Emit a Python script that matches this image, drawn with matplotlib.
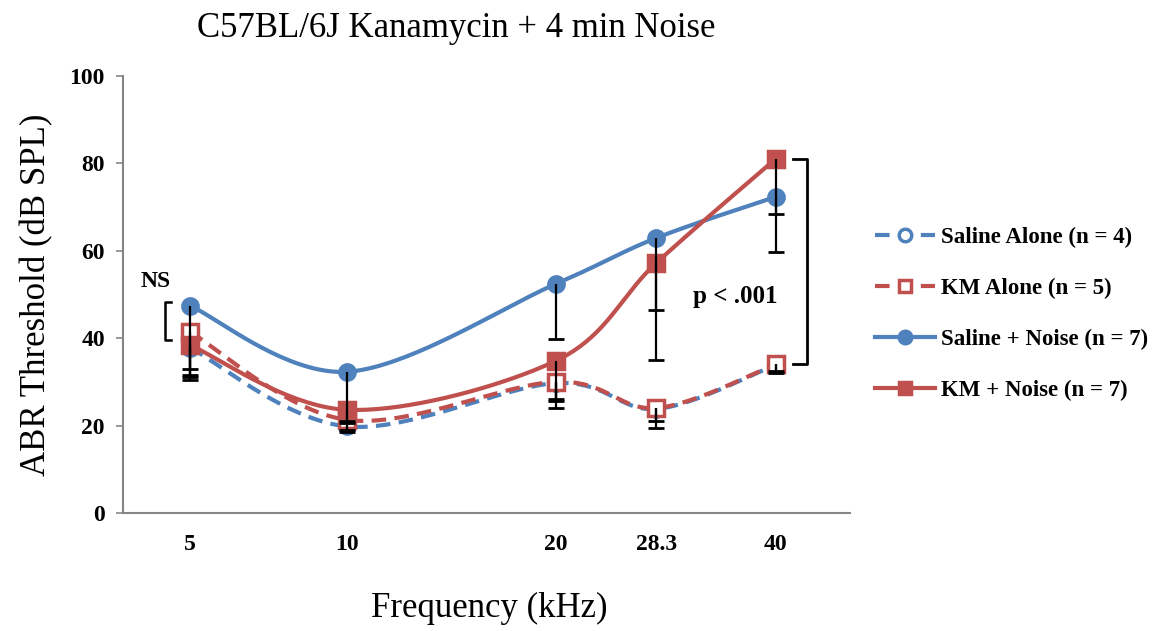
import numpy as np
import matplotlib
matplotlib.use("Agg")
import matplotlib.pyplot as plt
from matplotlib.lines import Line2D

# frequencies (kHz) and their spacing on the original axis
freq_labels = ["5", "10", "20", "28.3", "40"]
freq_pos = [0.0, 1.0, 2.33, 2.97, 3.73]

saline_alone = [37.8, 19.8, 29.7, 23.8, 33.9]
km_alone = [41.4, 21.3, 30.0, 24.0, 34.0]
saline_noise = [47.4, 32.3, 52.4, 62.9, 72.3]
km_noise = [38.4, 23.6, 34.8, 57.2, 81.0]

# lower error bars (only the lower half is shown)
saline_alone_err = [6.8, 1.3, 5.7, 4.3, 1.9]
km_alone_err = [8.4, 2.3, 4.0, 3.0, 1.5]
saline_noise_err = [16.9, 11.3, 12.6, 16.4, 12.6]
km_noise_err = [6.9, 3.1, 9.3, 22.2, 12.6]

BLUE = "#4F81BD"
RED = "#C0504D"
SERIF = "Liberation Serif"


def smooth(ax, x, y, n=40):
    # Excel style smoothed line, computed in screen space
    pts = ax.transData.transform(np.column_stack([x, y]))
    P = np.vstack([pts[0], pts, pts[-1]])
    t = np.linspace(0, 1, n)[:, None]
    out = []
    for i in range(1, len(P) - 2):
        p0, p1, p2, p3 = P[i - 1], P[i], P[i + 1], P[i + 2]
        c1 = p1 + (p2 - p0) / 6
        c2 = p2 - (p3 - p1) / 6
        seg = ((1 - t) ** 3 * p1 + 3 * (1 - t) ** 2 * t * c1
               + 3 * (1 - t) * t ** 2 * c2 + t ** 3 * p2)
        out.append(seg)
    out = ax.transData.inverted().transform(np.vstack(out))
    return out[:, 0], out[:, 1]


fig = plt.figure(figsize=(11.71, 6.31), dpi=100)
ax = fig.add_axes([0.105, 0.187, 0.621, 0.693])
ax.set_xlim(-0.427, 4.204)
ax.set_ylim(0, 100)

series = [
    (saline_alone, saline_alone_err, BLUE, (0, (3.5, 2)), "o", "white", "Saline Alone (n = 4)"),
    (km_alone, km_alone_err, RED, (0, (3.5, 2)), "s", "white", "KM Alone (n = 5)"),
    (saline_noise, saline_noise_err, BLUE, "-", "o", BLUE, "Saline + Noise (n = 7)"),
    (km_noise, km_noise_err, RED, "-", "s", RED, "KM + Noise (n = 7)"),
]

handles = []
for vals, err, col, ls, mk, fc, lab in series:
    sx, sy = smooth(ax, freq_pos, vals)
    ax.plot(sx, sy, color=col, lw=3, ls=ls, zorder=2, solid_capstyle="round")
    ms = 11 if mk == "o" else 11.5
    ax.plot(freq_pos, vals, ls="none", marker=mk, ms=ms, mfc=fc, mec=col,
            mew=2.5, zorder=3)
    lows = np.array(vals) - np.array(err)
    ax.vlines(freq_pos, lows, vals, color="black", lw=1.6, zorder=4)
    ax.plot(freq_pos, lows, ls="none", marker="_", ms=11, mew=2,
            color="black", zorder=4)
    handles.append(Line2D([], [], color=col, lw=3, ls=ls, marker=mk, ms=9,
                          mfc=fc, mec=col, mew=2.5, label=lab))

for s in ["top", "right"]:
    ax.spines[s].set_visible(False)
for s in ["left", "bottom"]:
    ax.spines[s].set_color("#868686")
    ax.spines[s].set_linewidth(1.5)

ax.set_yticks(range(0, 101, 20))
ax.set_xticks(freq_pos)
ax.set_xticklabels(freq_labels)
ax.tick_params(axis="y", length=5, width=1.2, color="#868686", pad=8)
ax.tick_params(axis="x", length=0, pad=15)
for lbl in ax.get_xticklabels() + ax.get_yticklabels():
    lbl.set_fontfamily(SERIF)
    lbl.set_fontweight("bold")
    lbl.set_fontsize(17)

ax.set_ylabel("ABR Threshold (dB SPL)", fontfamily=SERIF, fontsize=25, labelpad=12)
fig.text(0.418, 0.036, "Frequency (kHz)", fontfamily=SERIF, fontsize=25,
         ha="center", va="center")
fig.text(0.39, 0.955, "C57BL/6J Kanamycin + 4 min Noise", fontfamily=SERIF,
         fontsize=25, ha="center", va="center")

# NS bracket at 5 kHz
ax.plot([-0.12, -0.16, -0.16, -0.12], [48.3, 48.3, 39.6, 39.6], color="black", lw=1.8)
ax.text(-0.22, 53, "NS", fontfamily=SERIF, fontweight="bold", fontsize=17,
        ha="center", va="center")

# p < .001 bracket at 40 kHz
ax.plot([3.84, 3.93, 3.93, 3.84], [81.0, 81.0, 34.0, 34.0], color="black", lw=2)
ax.text(3.47, 49.5, "p < .001", fontfamily=SERIF, fontweight="bold", fontsize=18,
        ha="center", va="center")

leg = fig.legend(handles=handles, loc="center left", bbox_to_anchor=(0.73, 0.503),
                 frameon=False, handlelength=2.6, labelspacing=1.3,
                 handletextpad=0.25,
                 prop={"family": SERIF, "weight": "bold", "size": 16.5})

fig.savefig("out.png", dpi=100)
